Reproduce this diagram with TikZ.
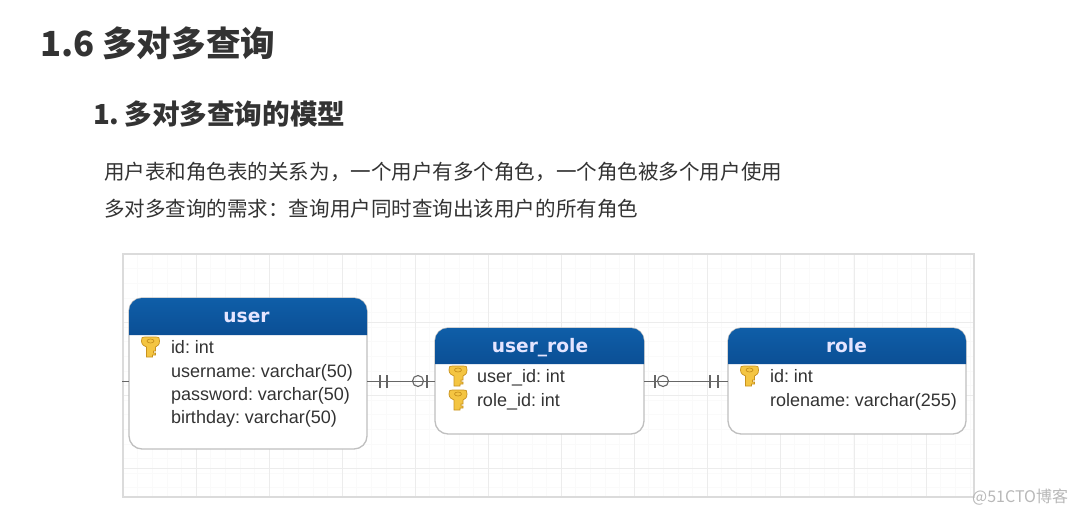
\documentclass[tikz,border=0pt]{standalone}
\usepackage{fontspec}
\setmainfont{Liberation Sans}
\newfontfamily\cjkfont{Noto Sans CJK SC}
\newfontfamily\hdrfont{DejaVu Sans}
\usetikzlibrary{calc}
\definecolor{hdrtop}{HTML}{0F5EA8}
\definecolor{hdrbot}{HTML}{0B4F95}
\definecolor{keyfill}{HTML}{F4C542}
\definecolor{keyline}{HTML}{C8921E}
\definecolor{ink}{HTML}{333333}
\definecolor{gridmaj}{HTML}{ECECEC}
\definecolor{gridmin}{HTML}{FAFAFA}
\newcommand{\fieldfont}{\fontsize{18}{18}\selectfont\spaceskip=.18em\relax}
\tikzset{
  x=1pt,y=-1pt,
  every node/.style={inner sep=0pt,outer sep=0pt},
  h1/.style={anchor=west,text=ink,font=\cjkfont\bfseries\fontsize{34.6}{36}\selectfont},
  h2/.style={anchor=west,text=ink,font=\cjkfont\bfseries\fontsize{27.6}{30}\selectfont},
  para/.style={anchor=west,text=ink,font=\cjkfont\fontsize{20.55}{24}\selectfont},
  tablebox/.style={draw=black!25,line width=1.3pt,fill=white,rounded corners=13pt,anchor=north west},
  hdrtext/.style={text=white!90!blue,anchor=base,font=\hdrfont\bfseries\fontsize{18.6}{20}\selectfont},
  field/.style={anchor=base west,text=ink,font=\fieldfont},
  rel/.style={draw=black!60,line width=1pt},
  mark line/.style={draw=black!60,line width=1.1pt},
  keyicon/.pic={
    \fill[keyfill,draw=keyline,line width=.7pt] (-5,-10) .. controls (-9,-10) and (-9,-9) .. (-9,-6)
      .. controls (-9,-2) and (-6,-1) .. (-4,0) -- (-4,10) -- (2,10) -- (2,8) -- (5,8) -- (5,6) -- (3,6) -- (3,4) -- (5,4) -- (5,0)
      .. controls (7,-1) and (9,-2) .. (9,-6) .. controls (9,-9) and (9,-10) .. (5,-10) -- cycle;
    \draw[keyline,line width=.7pt] (0,-6) ellipse [x radius=3.5,y radius=2];
  }
}
\begin{document}
\begin{tikzpicture}
\useasboundingbox (0,0) rectangle (1077,515);
\fill[white] (0,0) rectangle (1077,515);
% canvas grid
\foreach \i in {0,...,58} \draw[gridmin,line width=.6pt] ({123+\i*14.6},254) -- ({123+\i*14.6},497);
\foreach \i in {0,...,16} \draw[gridmin,line width=.6pt] (123,{254+\i*14.6}) -- (974,{254+\i*14.6});
\foreach \x in {196,269,342,415,488,561,634,707,780,854,926} \draw[gridmaj,line width=.9pt] (\x,254) -- (\x,497);
\foreach \y in {322,395,468} \draw[gridmaj,line width=.9pt] (123,\y) -- (974,\y);
\node[draw=black!14,line width=1.2pt,minimum width=851pt,minimum height=243pt,anchor=north west] (canvas) at (123,254) {};
% headings
\node[h1] (title) at (40,43) {1.6 多对多查询};
\node[h2] (sub) at (93,113.5) {1.\kern5pt 多对多查询的模型};
\node[para] (p1) at (104,171.5) {用户表和角色表的关系为，一个用户有多个角色，一个角色被多个用户使用};
\node[para] (p2) at (104,208.5) {多对多查询的需求：查询用户同时查询出该用户的所有角色};
% tables
\node[tablebox,minimum width=238pt,minimum height=151pt] (user) at (129,298) {};
\node[tablebox,minimum width=209pt,minimum height=106pt] (userrole) at (435,328) {};
\node[tablebox,minimum width=238pt,minimum height=106pt] (role) at (728,328) {};
% headers
\shade[top color=hdrtop,bottom color=hdrbot,rounded corners=13pt] (129,335) [sharp corners] -- (129,320) [rounded corners=13pt] -- (129,298) -- (367,298) [sharp corners] -- (367,335) -- cycle;
\shade[top color=hdrtop,bottom color=hdrbot,rounded corners=13pt] (435,364) [sharp corners] -- (435,350) [rounded corners=13pt] -- (435,328) -- (644,328) [sharp corners] -- (644,364) -- cycle;
\shade[top color=hdrtop,bottom color=hdrbot,rounded corners=13pt] (728,364) [sharp corners] -- (728,350) [rounded corners=13pt] -- (728,328) -- (966,328) [sharp corners] -- (966,364) -- cycle;
\node[hdrtext] (userh) at (246.5,322.5) {user};
\node[hdrtext] (userroleh) at (540,352) {user\_role};
\node[hdrtext] (roleh) at (846.5,352) {role};
% fields
\node[field] (f1) at (171,353) {id: int};
\node[field] (f2) at (171,377) {username: varchar(50)};
\node[field] (f3) at (171,400) {password: varchar(50)};
\node[field] (f4) at (171,423) {birthday: varchar(50)};
\node[field] (f5) at (477,382) {user\_id: int};
\node[field] (f6) at (477,406) {role\_id: int};
\node[field] (f7) at (770,382) {id: int};
\node[field] (f8) at (770,406) {rolename: varchar(255)};
% keys
\pic at (150.5,347) {keyicon};
\pic at (458,376) {keyicon};
\pic at (458,400) {keyicon};
\pic at (749.5,376) {keyicon};
% connectors
\coordinate (stub) at (122,381);
\coordinate (ue) at (367,381);
\coordinate (ul) at (129,381);
\coordinate (urw) at (435,381);
\coordinate (ure) at (644,381);
\coordinate (rw) at (728,381);
\draw[rel] (stub) -- (ul);
\draw[rel] (ue) -- (urw);
\draw[rel] (ure) -- (rw);
\foreach \x in {380,387,427,655,710,718}
  \draw[mark line] (\x,375) -- (\x,388);
\draw[mark line] (418,381) circle [radius=5.5];
\draw[mark line] (663,381) circle [radius=5.5];
% watermark
\node[anchor=east,text=black!28,font=\cjkfont\fontsize{16}{18}\selectfont] (wm) at (1068,497) {@51CTO博客};
\end{tikzpicture}
\end{document}
